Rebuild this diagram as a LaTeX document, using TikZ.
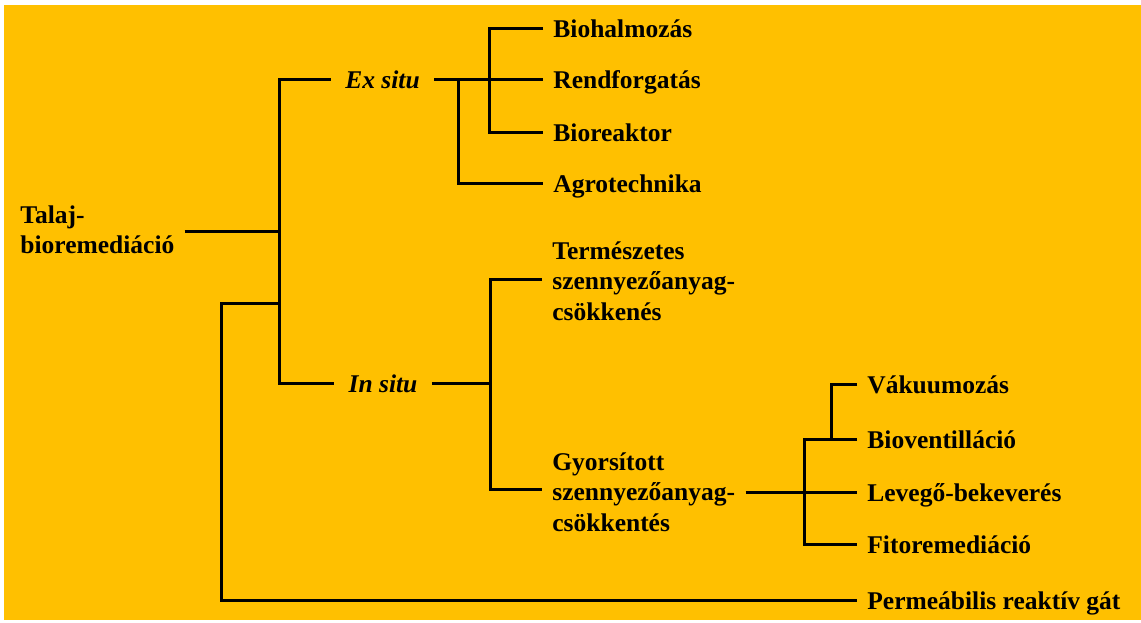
\documentclass[tikz,border=0pt]{standalone}
\usepackage{fontspec}
\setmainfont{Liberation Serif}
\definecolor{remOrange}{HTML}{FFC000}
\definecolor{remInk}{HTML}{000000}
\usepackage{tikz}
\usetikzlibrary{positioning, calc}
\newcommand{\remfont}{\fontsize{12.75}{15.2}\selectfont\bfseries}

\begin{document}
\begin{tikzpicture}[x=0.5pt, y=-0.5pt,
  leaf/.style={anchor=west, inner xsep=5pt, inner ysep=0pt, font=\remfont,
    text=remInk, text height=1.0em, text depth=0.1em},
  block/.style={anchor=west, inner xsep=5pt, inner ysep=0pt, font=\remfont,
    text=remInk, align=left},
  site/.style={inner xsep=7pt, inner ysep=0pt, font=\remfont\itshape,
    text=remInk, text height=1.0em, text depth=0.1em},
  conn/.style={draw=remInk, line width=1.5pt}]

  \useasboundingbox (0,0) rectangle (1141,622);
  \fill[remOrange] (4,5) rectangle (1141,620);

  \node[block] (talaj) at (10,230) {Talaj-\\bioremediáció};

  \node[site] (exsitu) at (382.5,79) {Ex situ};
  \node[site] (insitu) at (383,383) {In situ};

  \node[leaf] (bioh)  at (543,28)  {Biohalmozás};
  \node[leaf] (rend)  at (543,79)  {Rendforgatás};
  \node[leaf] (biore) at (543,132) {Bioreaktor};
  \node[leaf] (agro)  at (543,183) {Agrotechnika};

  \node[block] (term)  at (542,281) {Természetes\\szennyezőanyag-\\csökkenés};
  \node[block] (gyors) at (542,492) {Gyorsított\\szennyezőanyag-\\csökkentés};

  \node[leaf] (vaku)    at (857,384) {Vákuumozás};
  \node[leaf] (biovent) at (857,439) {Bioventilláció};
  \node[leaf] (levego)  at (857,492) {Levegő-bekeverés};
  \node[leaf] (fito)    at (857,544) {Fitoremediáció};
  \node[leaf] (perm)    at (857,600) {Permeábilis reaktív gát};

  \coordinate (j0) at (279,231);
  \coordinate (j1) at (279,303);
  \coordinate (j2) at (221,303);
  \coordinate (e1) at (458,79);
  \coordinate (e2) at (489,79);
  \coordinate (i1) at (490,383);
  \coordinate (g1) at (804,492);
  \coordinate (g2) at (831,439);

  \draw[conn] (talaj.east |- j0) -- (j0);
  \draw[conn] (exsitu.west) -| (j0) |- (insitu.west);
  \draw[conn] (j1) -- (j2) |- (perm.west);

  \draw[conn] (exsitu.east) -- (rend.west);
  \draw[conn] (bioh.west) -| (e2) |- (biore.west);
  \draw[conn] (e1) |- (agro.west);

  \draw[conn] (insitu.east) -- (i1);
  \draw[conn] (term.west |- 0,279) -| (i1) |- (gyors.west |- 0,489);

  \draw[conn] (gyors.east |- g1) -- (levego.west);
  \draw[conn] (biovent.west) -| (g1) |- (fito.west);
  \draw[conn] (vaku.west) -| (g2);
\end{tikzpicture}
\end{document}
